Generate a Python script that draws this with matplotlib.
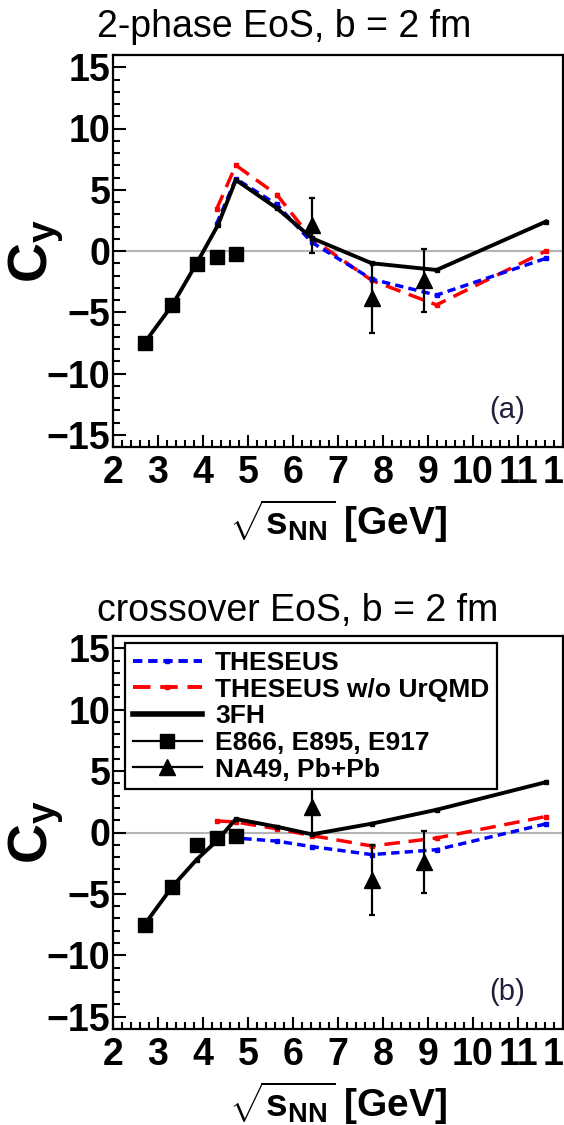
import numpy as np
import matplotlib.pyplot as plt
from matplotlib.lines import Line2D
from matplotlib.ticker import MultipleLocator

plt.rcParams['font.family'] = ['Liberation Sans', 'DejaVu Sans']
plt.rcParams['font.weight'] = 'bold'
plt.rcParams['axes.labelweight'] = 'bold'
plt.rcParams['mathtext.fontset'] = 'custom'
plt.rcParams['mathtext.bf'] = 'Liberation Sans:bold'
plt.rcParams['mathtext.rm'] = 'Liberation Sans:bold'
plt.rcParams['mathtext.it'] = 'Liberation Sans:italic'

# data points (same in both panels)
ags_x = [2.7, 3.32, 3.86, 4.3, 4.73]
ags_y = [-7.5, -4.4, -1.05, -0.45, -0.25]
na49_x = [6.42, 7.75, 8.9]
na49_y = [2.1, -3.85, -2.4]
na49_err = [2.25, 2.85, 2.55]

# model curves
fh_x = [2.7, 3.32, 3.86, 4.33, 4.73, 5.64, 6.42, 7.75, 9.19, 11.62]
model_x = [4.3, 4.73, 5.64, 6.42, 7.75, 9.19, 11.62]

# (a) 2-phase EoS
fh_a = [-7.5, -4.4, -1.0, 2.1, 5.8, 3.5, 1.05, -1.0, -1.55, 2.4]
theseus_a = [2.2, 5.9, 3.8, 0.7, -2.3, -3.6, -0.6]
no_urqmd_a = [3.4, 7.0, 4.6, 1.0, -2.4, -4.4, 0.0]

# (b) crossover EoS
fh_b = [-7.5, -4.4, -2.2, -0.6, 1.1, 0.47, -0.15, 0.72, 1.85, 4.1]
theseus_b = [-0.7, -0.45, -0.7, -1.15, -1.8, -1.4, 0.7]
no_urqmd_b = [0.95, 0.85, 0.3, -0.25, -1.1, -0.45, 1.3]

BLUE = '#0000ff'
RED = '#ff0000'
blue_dash = (0, (2.4, 1.5))
red_dash = (0, (4.5, 2.5))


def draw_panel(ax, theseus, no_urqmd, fh, tag):
    ax.axhline(0, color='#b4b4b4', lw=1.5, zorder=1)
    ax.plot(model_x, no_urqmd, color=RED, ls=red_dash, lw=2.5,
            marker='s', ms=3.5, zorder=2)
    ax.plot(model_x, theseus, color=BLUE, ls=blue_dash, lw=2.5,
            marker='s', ms=3.5, zorder=3)
    ax.plot(fh_x, fh, color='k', lw=2.8, marker='s', ms=3.5, zorder=4)
    ax.plot(ags_x, ags_y, 'ks', ms=10.5, zorder=5)
    ax.errorbar(na49_x, na49_y, yerr=na49_err, fmt='^', color='k', ms=11,
                capsize=2.5, elinewidth=1.6, capthick=1.6, zorder=5)

    ax.set_xlim(2, 12)
    ax.set_ylim(-16, 16)
    ax.xaxis.set_major_locator(MultipleLocator(1))
    ax.xaxis.set_minor_locator(MultipleLocator(0.2))
    ax.yaxis.set_major_locator(MultipleLocator(5))
    ax.yaxis.set_minor_locator(MultipleLocator(1))
    ax.tick_params(which='both', direction='in', top=False, right=False,
                   width=1.5)
    ax.tick_params(which='major', length=9, labelsize=27)
    ax.tick_params(which='minor', length=5)
    ax.tick_params(axis='y', pad=2)
    ax.tick_params(axis='x', pad=6)
    for s in ax.spines.values():
        s.set_linewidth(1.6)

    ax.set_ylabel(r'$\mathbf{C_y}$', fontsize=40)
    ax.yaxis.set_label_coords(-0.105, 0.5)
    ax.set_xlabel(r'$\sqrt{\mathbf{s}_{\mathbf{NN}}}$ [GeV]', fontsize=28)
    ax.xaxis.set_label_coords(0.5, -0.13)
    ax.text(0.876, 0.095, tag, transform=ax.transAxes, fontsize=21,
            fontweight='normal', color='#20203a', ha='center', va='center')


fig = plt.figure(figsize=(5.64, 11.25), dpi=100)
ax_a = fig.add_axes([113/564, 1-447/1125, 450/564, 392/1125])
ax_b = fig.add_axes([113/564, 1-1029/1125, 450/564, 393/1125])

draw_panel(ax_a, theseus_a, no_urqmd_a, fh_a, '(a)')
draw_panel(ax_b, theseus_b, no_urqmd_b, fh_b, '(b)')

fig.text(97/564, 1-37/1125, '2-phase EoS, b = 2 fm', fontsize=27,
         fontweight='normal', va='baseline')
fig.text(97/564, 1-621/1125, 'crossover EoS, b = 2 fm', fontsize=27,
         fontweight='normal', va='baseline')

handles = [
    Line2D([], [], color=BLUE, ls=blue_dash, lw=2.8, marker='s', ms=3.5),
    Line2D([], [], color=RED, ls=red_dash, lw=2.8, marker='s', ms=3.5),
    Line2D([], [], color='k', lw=4),
    Line2D([], [], color='k', lw=1.6, marker='s', ms=10.5),
    Line2D([], [], color='k', lw=1.6, marker='^', ms=11),
]
labels = ['THESEUS', 'THESEUS w/o UrQMD', '3FH', 'E866, E895, E917',
          'NA49, Pb+Pb']
leg = ax_b.legend(handles, labels, loc='upper left',
                  bbox_to_anchor=(0.027, 0.982), borderaxespad=0,
                  prop={'weight': 'bold', 'size': 19}, numpoints=1,
                  fancybox=False, edgecolor='k', framealpha=1,
                  handlelength=2.6, handletextpad=0.5, labelspacing=0.1,
                  borderpad=0.3)
leg.get_frame().set_linewidth(1.6)
leg.set_zorder(10)

fig.savefig('out.png', dpi=100)
